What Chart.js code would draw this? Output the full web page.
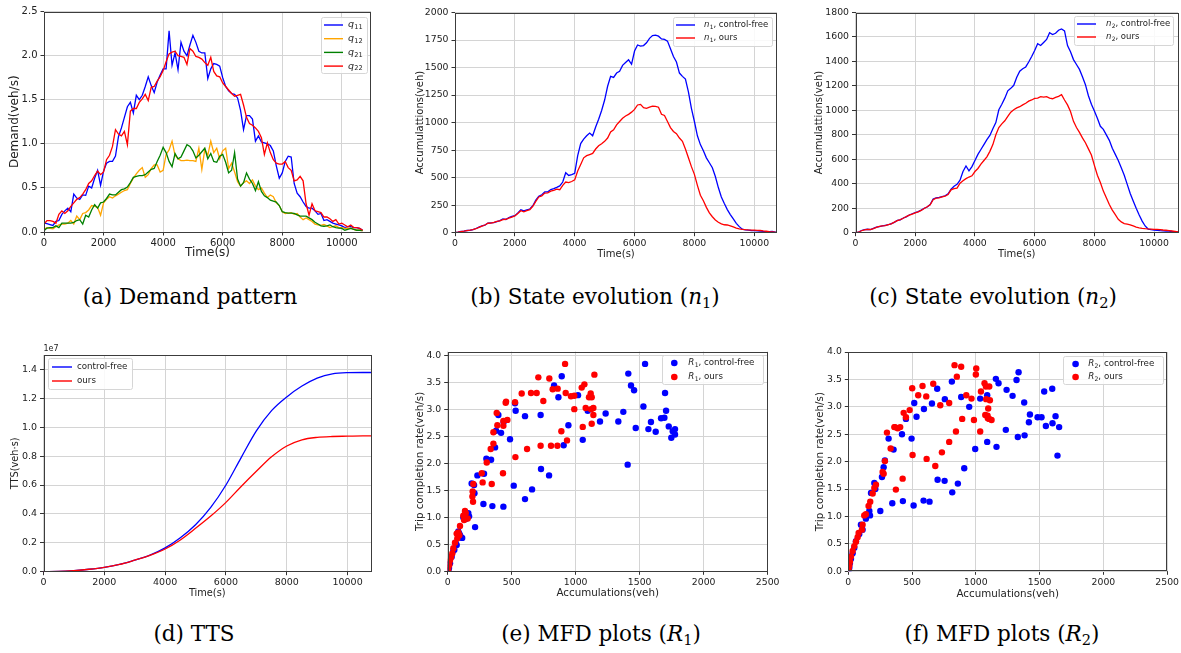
<!DOCTYPE html>
<html>
<head>
<meta charset="utf-8">
<script src="https://cdn.jsdelivr.net/npm/chart.js@4.4.1/dist/chart.umd.min.js"></script>
<style>
html, body { margin: 0; padding: 0; background: #fff; }
#fig { position: relative; width: 1181px; height: 653px; overflow: hidden; background: #fff; }
canvas { position: absolute; }
.cap { position: absolute; transform: translateX(-50%); white-space: nowrap; font-family: 'DejaVu Serif', serif; font-size: 21.5px; line-height: 26px; color: #000; }
.cap sub { font-size: 68%; vertical-align: -0.28em; line-height: 0; }
</style>
</head>
<body>
<div id="fig">
  <canvas id="cA"></canvas>
  <canvas id="cB"></canvas>
  <canvas id="cC"></canvas>
  <canvas id="cD"></canvas>
  <canvas id="cE"></canvas>
  <canvas id="cF"></canvas>
  <div class="cap" style="left:190px;top:284px">(a) Demand pattern</div>
  <div class="cap" style="left:595px;top:284px">(b) State evolution (<i>n</i><sub>1</sub>)</div>
  <div class="cap" style="left:993px;top:284px">(c) State evolution (<i>n</i><sub>2</sub>)</div>
  <div class="cap" style="left:194px;top:621px">(d) TTS</div>
  <div class="cap" style="left:601px;top:621px">(e) MFD plots (<i>R</i><sub>1</sub>)</div>
  <div class="cap" style="left:1002px;top:621px">(f) MFD plots (<i>R</i><sub>2</sub>)</div>
</div>
<script>
// ---- tick values ----
const timeTicks = [0, 2000, 4000, 6000, 8000, 10000];
const demandTicks = [0, 0.5, 1.0, 1.5, 2.0, 2.5];
const acc1Ticks = [0, 250, 500, 750, 1000, 1250, 1500, 1750, 2000];
const acc2Ticks = [0, 200, 400, 600, 800, 1000, 1200, 1400, 1600, 1800];
const ttsTicks = [0, 0.2, 0.4, 0.6, 0.8, 1.0, 1.2, 1.4];
const accXTicks = [0, 500, 1000, 1500, 2000, 2500];
const rateTicks = [0, 0.5, 1.0, 1.5, 2.0, 2.5, 3.0, 3.5, 4.0];

// ---- (a) demand pattern, every 100 s ----
const demandTime = [
  0,100,200,300,400,500,600,700,800,900,
  1000,1100,1200,1300,1400,1500,1600,1700,1800,1900,
  2000,2100,2200,2300,2400,2500,2600,2700,2800,2900,
  3000,3100,3200,3300,3400,3500,3600,3700,3800,3900,
  4000,4100,4200,4300,4400,4500,4600,4700,4800,4900,
  5000,5100,5200,5300,5400,5500,5600,5700,5800,5900,
  6000,6100,6200,6300,6400,6500,6600,6700,6800,6900,
  7000,7100,7200,7300,7400,7500,7600,7700,7800,7900,
  8000,8100,8200,8300,8400,8500,8600,8700,8800,8900,
  9000,9100,9200,9300,9400,9500,9600,9700,9800,9900,
  10000,10100,10200,10300,10400,10500,10600,10700
];
const q11 = [
  0.10,0.095,0.085,0.075,0.12,0.13,0.20,0.24,0.27,0.23,
  0.43,0.385,0.37,0.42,0.415,0.52,0.50,0.61,0.70,0.53,
  0.69,0.78,0.80,0.80,0.86,1.08,1.18,1.30,1.42,1.47,
  1.35,1.55,1.50,1.55,1.65,1.76,1.66,1.58,1.70,1.78,
  1.85,1.85,2.28,1.89,2.03,1.84,2.15,2.05,2.00,2.12,
  2.23,2.15,2.05,2.03,2.03,1.74,1.85,1.91,1.90,1.88,
  1.75,1.65,1.60,1.57,1.56,1.52,1.38,1.16,1.32,1.32,
  1.28,1.03,1.09,1.02,1.01,1.00,0.98,0.92,0.75,0.61,
  0.67,0.80,0.86,0.85,0.55,0.44,0.40,0.34,0.29,0.27,
  0.27,0.24,0.20,0.21,0.13,0.14,0.12,0.10,0.09,0.08,
  0.07,0.05,0.06,0.06,0.05,0.05,0.04,0.02
];
const q12 = [
  0.03,0.05,0.04,0.035,0.06,0.08,0.09,0.09,0.10,0.13,
  0.09,0.18,0.14,0.21,0.22,0.25,0.30,0.29,0.28,0.19,
  0.33,0.37,0.40,0.385,0.41,0.43,0.45,0.47,0.48,0.55,
  0.61,0.66,0.70,0.73,0.62,0.65,0.72,0.76,0.76,0.68,
  0.70,0.88,0.93,1.03,0.87,0.83,0.81,0.81,0.815,0.81,
  0.81,0.80,0.95,0.71,0.94,0.87,1.03,0.90,0.95,0.83,
  0.92,0.95,0.72,0.78,0.68,0.57,0.52,0.56,0.58,0.55,
  0.59,0.52,0.48,0.50,0.44,0.39,0.42,0.40,0.33,0.30,
  0.23,0.21,0.215,0.22,0.20,0.21,0.17,0.14,0.16,0.14,
  0.12,0.09,0.08,0.075,0.085,0.07,0.05,0.06,0.07,0.05,
  0.05,0.04,0.04,0.045,0.03,0.02,0.02,0.015
];
const q21 = [
  0.015,0.045,0.05,0.05,0.07,0.05,0.10,0.10,0.10,0.10,
  0.11,0.13,0.14,0.09,0.19,0.17,0.25,0.31,0.27,0.33,
  0.34,0.38,0.43,0.42,0.42,0.45,0.48,0.49,0.51,0.56,
  0.62,0.63,0.64,0.64,0.65,0.68,0.71,0.72,0.80,0.87,
  0.96,0.90,0.80,0.74,0.89,0.83,0.85,0.92,0.99,0.97,
  0.92,0.84,0.87,0.91,0.95,0.83,0.89,0.80,0.79,0.86,
  0.88,0.79,0.67,0.70,0.90,0.60,0.52,0.56,0.67,0.60,
  0.55,0.47,0.57,0.46,0.41,0.39,0.36,0.35,0.34,0.30,
  0.23,0.22,0.215,0.215,0.21,0.195,0.18,0.18,0.18,0.16,
  0.14,0.11,0.09,0.07,0.065,0.07,0.08,0.06,0.05,0.045,
  0.04,0.02,0.03,0.04,0.03,0.02,0.02,0.015
];
const q22 = [
  0.09,0.13,0.13,0.12,0.10,0.20,0.24,0.21,0.24,0.29,
  0.33,0.37,0.39,0.43,0.48,0.55,0.58,0.64,0.69,0.65,
  0.68,0.82,0.87,0.97,1.16,1.11,1.09,1.14,0.99,1.37,
  1.40,1.40,1.47,1.51,1.56,1.49,1.64,1.65,1.71,1.76,
  1.83,1.93,2.02,2.04,2.05,2.00,1.99,1.98,1.90,2.08,
  2.05,1.99,1.98,1.96,1.92,1.89,1.98,1.82,1.77,1.76,
  1.69,1.65,1.61,1.57,1.54,1.55,1.56,1.44,1.30,1.23,
  1.21,1.18,1.14,1.07,0.88,1.01,0.90,0.82,0.78,0.77,
  0.77,0.80,0.73,0.70,0.58,0.59,0.63,0.58,0.32,0.19,
  0.32,0.24,0.23,0.22,0.17,0.17,0.15,0.12,0.14,0.09,
  0.10,0.08,0.06,0.08,0.05,0.05,0.04,0.02
];

// ---- (b), (c) accumulations, every 100 s ----
const accTime = [
  0,100,200,300,400,500,600,700,800,900,
  1000,1100,1200,1300,1400,1500,1600,1700,1800,1900,
  2000,2100,2200,2300,2400,2500,2600,2700,2800,2900,
  3000,3100,3200,3300,3400,3500,3600,3700,3800,3900,
  4000,4100,4200,4300,4400,4500,4600,4700,4800,4900,
  5000,5100,5200,5300,5400,5500,5600,5700,5800,5900,
  6000,6100,6200,6300,6400,6500,6600,6700,6800,6900,
  7000,7100,7200,7300,7400,7500,7600,7700,7800,7900,
  8000,8100,8200,8300,8400,8500,8600,8700,8800,8900,
  9000,9100,9200,9300,9400,9500,9600,9700,9800,9900,
  10000,10100,10200,10300,10400,10500,10600,10700,10800
];
const n1Free = [
  0,5,12,15,20,22,27,38,50,62,
  68,88,90,92,100,110,125,120,138,148,
  155,180,208,198,208,215,245,295,330,345,
  370,372,392,400,412,425,460,545,520,528,
  540,700,810,850,880,905,880,960,1030,1110,
  1205,1330,1420,1410,1450,1465,1520,1545,1570,1530,
  1650,1705,1695,1700,1725,1765,1790,1795,1785,1760,
  1755,1740,1670,1600,1550,1450,1420,1395,1280,1130,
  1010,880,800,745,680,635,590,510,410,325,
  265,210,165,125,85,55,32,25,23,20,
  18,16,15,12,10,9,12,6,4
];
const n1Ours = [
  0,4,10,14,19,23,28,36,48,60,
  70,86,87,93,102,108,118,122,132,142,
  152,175,200,190,200,210,240,285,325,335,
  360,362,378,385,395,390,430,460,455,465,
  480,560,620,680,700,710,720,760,790,808,
  830,860,915,935,980,1010,1040,1060,1075,1095,
  1120,1160,1165,1135,1130,1140,1150,1148,1140,1075,
  1065,1010,955,920,900,860,830,760,680,600,
  530,430,340,290,230,180,145,115,95,80,
  72,70,62,52,42,35,30,27,25,24,
  24,22,20,16,13,10,8,5,3
];
const n2Free = [
  0,5,18,25,28,25,35,45,50,55,
  60,65,75,85,100,105,120,130,145,155,
  165,172,185,200,210,230,275,285,288,295,
  302,318,355,380,395,430,500,545,505,540,
  590,640,680,720,760,795,850,900,1005,1050,
  1100,1160,1180,1205,1270,1320,1340,1355,1395,1440,
  1490,1545,1530,1555,1580,1635,1620,1630,1655,1665,
  1650,1530,1480,1415,1375,1335,1275,1210,1120,1050,
  995,935,870,845,800,755,690,640,590,530,
  470,395,320,260,200,145,95,55,30,25,
  22,20,17,15,14,13,10,9,7
];
const n2Ours = [
  0,4,16,24,27,26,33,44,52,56,
  58,66,73,86,98,107,118,132,143,152,
  162,170,182,198,212,228,270,282,285,292,
  298,312,350,360,365,405,425,442,455,465,
  500,525,560,590,620,665,720,800,860,890,
  915,950,985,1005,1020,1030,1045,1058,1075,1085,
  1098,1100,1112,1108,1112,1100,1095,1106,1115,1128,
  1085,1045,990,910,860,820,775,735,685,635,
  550,470,410,340,285,230,185,148,110,88,
  75,70,64,55,46,40,36,33,31,30,
  28,27,25,22,20,17,14,10,6
];

// ---- (d) TTS, in units of 1e7 veh·s ----
const ttsTime = [0,500,1000,1500,2000,2500,3000,3500,4000,4500,5000,5500,6000,6500,7000,7500,8000,8500,9000,9500,10000,10500,10800];
const ttsFree = [0,0.002,0.008,0.017,0.03,0.05,0.08,0.115,0.165,0.235,0.325,0.445,0.60,0.79,0.975,1.115,1.21,1.285,1.34,1.37,1.378,1.379,1.379];
const ttsOurs = [0,0.002,0.008,0.017,0.03,0.05,0.08,0.113,0.157,0.22,0.30,0.385,0.48,0.59,0.695,0.795,0.87,0.913,0.93,0.936,0.938,0.94,0.94];

// ---- (e) MFD R1: accumulation (veh), trip completion rate (veh/s) ----
const r1FreeAcc = [1542,1411,1432,1456,1698,1529,1706,891,831,865,1018,1094,1234,1372,1333,1190,1469,1568,1588,1625,1667,1693,1727,1747,1758,1776,1776,1406,1055,943,906,526,531,604,726,487,437,417,396,378,370,339,302,284,232,206,214,279,349,435,516,604,659,729,792,161,167,141,122,104,91,83,70,62,52,44,31,18,10,5,209,187,113,98];
const r1FreeRate = [3.85,3.67,3.45,3.36,3.31,3.06,2.98,3.62,3.45,3.23,3.27,2.98,2.93,2.96,2.78,2.78,2.66,2.64,2.77,2.59,2.84,2.85,2.69,2.48,2.60,2.64,2.54,1.98,2.44,2.71,2.34,3.12,2.98,2.88,2.90,2.45,2.77,2.57,2.90,2.61,2.30,2.07,2.09,1.81,1.78,1.60,0.82,1.25,1.21,1.20,1.59,1.34,1.52,1.90,1.78,1.08,1.02,0.97,1.00,0.63,0.70,0.74,0.49,0.53,0.40,0.38,0.27,0.15,0.06,0.01,1.45,1.63,0.62,0.66];
const r1OursAcc = [917,708,794,1146,1068,1047,820,859,578,651,695,922,963,989,1117,1125,1104,1138,1120,1078,989,747,456,453,526,383,435,466,388,357,435,336,1138,1125,1055,888,932,857,807,726,620,529,357,305,266,200,432,344,273,195,193,198,135,141,122,156,128,96,83,70,91,75,57,44,36,26,18,13,5,3];
const r1OursRate = [3.85,3.60,3.58,3.65,3.47,3.41,3.38,3.39,3.30,3.31,3.31,3.31,3.25,3.26,3.30,3.23,3.23,3.03,3.01,3.03,3.01,3.16,3.15,3.13,3.14,2.94,2.79,2.81,2.71,2.58,2.70,2.27,2.90,2.74,2.68,2.60,2.43,2.33,2.33,2.33,2.27,2.12,2.37,2.02,1.82,1.62,1.82,1.62,1.65,1.48,1.39,1.29,1.12,1.08,1.03,0.98,0.95,0.84,0.72,0.70,0.67,0.61,0.53,0.43,0.33,0.26,0.20,0.12,0.07,0.02];

// ---- (f) MFD R2 ----
const r2FreeAcc = [1335,1319,1157,1178,812,697,757,1241,1288,1379,1536,1599,885,948,1034,1089,517,593,656,535,452,421,316,355,496,1424,1416,1484,1515,1549,1625,1601,1653,1640,1382,1329,1235,995,1089,1162,909,859,815,755,700,637,590,512,428,345,251,264,277,287,204,212,178,165,170,138,112,99,86,60,47,34,21,13,8,5];
const r2FreeRate = [3.63,3.49,3.51,3.43,3.46,3.33,3.14,3.31,3.20,3.08,3.28,3.33,3.18,3.00,3.15,3.21,3.07,2.96,3.06,2.82,2.78,2.50,2.42,2.22,2.42,2.86,2.72,2.81,2.81,2.65,2.83,2.70,2.63,2.11,2.48,2.45,2.58,2.23,2.36,2.27,1.88,1.60,1.44,1.65,1.67,1.27,1.29,1.20,1.28,1.24,1.10,1.72,1.90,2.02,1.61,1.50,1.43,1.10,1.02,0.96,0.76,0.85,0.68,0.55,0.43,0.33,0.23,0.15,0.07,0.03];
const r2OursAcc = [833,885,1003,1000,851,501,582,666,548,611,721,791,925,966,1068,1079,1105,1040,1081,1110,1097,1074,1092,1105,1123,1094,893,985,1034,844,791,734,682,614,504,481,452,434,407,387,366,361,303,332,426,373,269,277,287,217,204,191,172,159,138,125,112,107,81,73,60,47,34,21,13,8,3];
const r2OursRate = [3.76,3.73,3.70,3.59,3.55,3.34,3.38,3.42,3.21,3.19,3.03,3.07,3.21,3.15,3.43,3.37,3.37,3.28,3.14,3.12,2.97,2.85,2.84,2.78,2.76,2.79,2.78,2.76,2.55,2.55,2.36,2.17,1.92,2.05,2.12,2.94,2.81,2.89,2.63,2.61,2.63,2.63,2.53,2.24,1.69,1.49,1.81,1.78,2.01,1.58,1.52,1.42,1.27,1.19,1.04,1.02,0.85,0.76,0.70,0.62,0.54,0.46,0.37,0.27,0.18,0.11,0.05];

// ---------------------------------------------------------------
Chart.defaults.font.family = "'DejaVu Sans', sans-serif";
Chart.defaults.color = '#222';

const pts = (xs, ys) => xs.map((x, i) => ({ x: x, y: ys[i] }));

// matplotlib-like frame on all four sides
const framePlugin = {
  id: 'frame',
  afterDraw(chart) {
    const a = chart.chartArea, ctx = chart.ctx;
    ctx.save();
    ctx.strokeStyle = '#3c3c3c';
    ctx.lineWidth = 1;
    ctx.strokeRect(Math.round(a.left) + 0.5, Math.round(a.top) + 0.5,
      Math.round(a.right - a.left) - 1, Math.round(a.bottom - a.top) - 1);
    const o = chart.options.plugins.frame || {};
    if (o.offsetText) {
      ctx.fillStyle = '#222';
      ctx.font = "8px 'DejaVu Sans'";
      ctx.textBaseline = 'bottom';
      ctx.fillText(o.offsetText, a.left, a.top - 2);
    }
    ctx.restore();
  }
};

// label like "q_11" or "n_1, control-free": italic letter + subscript + rest
function drawLabel(ctx, label, x, y, fs) {
  ctx.textBaseline = 'middle';
  ctx.fillStyle = '#222';
  const m = label.match(/^([A-Za-z])_(\d+)(.*)$/);
  if (!m) {
    ctx.font = fs + "px 'DejaVu Sans'";
    ctx.fillText(label, x, y);
    return;
  }
  ctx.font = 'italic ' + fs + "px 'DejaVu Sans'";
  ctx.fillText(m[1], x, y);
  x += ctx.measureText(m[1]).width + 0.3;
  const sf = fs * 0.7;
  ctx.font = sf + "px 'DejaVu Sans'";
  ctx.fillText(m[2], x, y + fs * 0.28);
  x += ctx.measureText(m[2]).width;
  ctx.font = fs + "px 'DejaVu Sans'";
  ctx.fillText(m[3], x, y);
}

const boxLegend = {
  id: 'boxLegend',
  afterDraw(chart, args, o) {
    if (!o || !o.w) return;
    const ctx = chart.ctx, a = chart.chartArea;
    const x0 = o.side === 'left' ? a.left + o.dx : a.right - o.dx - o.w;
    const y0 = a.top + o.dy;
    ctx.save();
    ctx.beginPath();
    ctx.roundRect(Math.round(x0) + 0.5, Math.round(y0) + 0.5, o.w, o.h, 2);
    ctx.fillStyle = 'rgba(255,255,255,0.85)';
    ctx.fill();
    ctx.strokeStyle = '#d6d6d6';
    ctx.lineWidth = 1;
    ctx.stroke();
    chart.data.datasets.forEach((ds, i) => {
      const cy = y0 + o.first + i * o.row;
      if (o.mark === 'dot') {
        ctx.beginPath();
        ctx.arc(x0 + o.mx, cy, 3.3, 0, Math.PI * 2);
        ctx.fillStyle = ds.backgroundColor;
        ctx.fill();
      } else {
        ctx.beginPath();
        ctx.moveTo(x0 + o.l1, cy);
        ctx.lineTo(x0 + o.l2, cy);
        ctx.strokeStyle = ds.borderColor;
        ctx.lineWidth = 1.4;
        ctx.stroke();
      }
      drawLabel(ctx, ds.label, x0 + o.tx, cy, o.fs);
    });
    ctx.restore();
  }
};

function makeChart(id, L, type, datasets, legend, extra) {
  const c = document.getElementById(id);
  const b = L.box, ar = L.area;
  c.width = b.w; c.height = b.h;
  c.style.left = b.x + 'px'; c.style.top = b.y + 'px';
  c.style.width = b.w + 'px'; c.style.height = b.h + 'px';
  const pad = {
    left: ar.L - b.x - L.yw,
    top: ar.T - b.y,
    right: b.x + b.w - ar.R,
    bottom: b.y + b.h - ar.B - L.xh
  };
  const lh = L.titleFs * 1.2;
  const yTitlePad = L.yTitleX - b.x - pad.left - lh / 2;
  const xTitlePad = b.h - pad.bottom - lh / 2 - (L.xTitleY - b.y);
  const grid = { color: '#d4d4d4', lineWidth: 1, tickColor: '#333', tickLength: 3.5, drawTicks: true };
  return new Chart(c, {
    type: type,
    data: { datasets: datasets },
    options: {
      animation: false,
      responsive: false,
      devicePixelRatio: 1,
      layout: { padding: pad },
      scales: {
        x: {
          type: 'linear', min: 0, max: L.xmax,
          afterFit: s => { s.height = L.xh; },
          afterBuildTicks: s => { s.ticks = L.xticks.map(v => ({ value: v })); },
          border: { display: false },
          grid: grid,
          ticks: { autoSkip: false, maxRotation: 0,
                   padding: 2, font: { size: L.tickFs }, color: '#222', callback: v => String(v) },
          title: { display: true, text: L.xTitle, color: '#222', font: { size: L.titleFs },
                   padding: { top: 0, bottom: xTitlePad } }
        },
        y: {
          type: 'linear', min: 0, max: L.ymax,
          afterFit: s => { s.width = L.yw; },
          afterBuildTicks: s => { s.ticks = L.yticks.map(v => ({ value: v })); },
          border: { display: false },
          grid: grid,
          ticks: { autoSkip: false,
                   padding: 3, font: { size: L.tickFs }, color: '#222',
                   callback: v => L.ydec ? v.toFixed(L.ydec) : String(v) },
          title: { display: true, text: L.yTitle, color: '#222', font: { size: L.titleFs },
                   padding: { top: yTitlePad, bottom: 0 } }
        }
      },
      plugins: Object.assign({ legend: { display: false }, tooltip: { enabled: false }, boxLegend: legend }, extra || {})
    },
    plugins: [framePlugin, boxLegend]
  });
}

const line = (label, xs, ys, color, order) => ({
  label: label, data: pts(xs, ys), borderColor: color, backgroundColor: color,
  borderWidth: 1.3, pointRadius: 0, tension: 0, fill: false, order: order
});
const smooth = (label, xs, ys, color, order) => Object.assign(line(label, xs, ys, color, order),
  { cubicInterpolationMode: 'monotone' });
const dots = (label, xs, ys, color, order) => ({
  label: label, data: pts(xs, ys), backgroundColor: color, borderColor: color,
  borderWidth: 0, pointRadius: 3.2, order: order
});

// (a)
makeChart('cA', {
  box: { x: 0, y: 0, w: 385, h: 268 }, area: { L: 44, R: 371, T: 11.5, B: 232 }, yw: 44, xh: 30,
  xmax: 10980, xticks: timeTicks, ymax: 2.5, yticks: demandTicks, ydec: 1,
  tickFs: 10, titleFs: 12, yTitleX: 15, xTitleY: 253,
  xTitle: 'Time(s)', yTitle: 'Demand(veh/s)'
}, 'line', [
  line('q_11', demandTime, q11, '#0000ff', 4),
  line('q_12', demandTime, q12, '#ffa500', 3),
  line('q_21', demandTime, q21, '#008000', 2),
  line('q_22', demandTime, q22, '#ff0000', 1)
], { side: 'right', dx: 4, dy: 5.5, w: 46, h: 56, first: 8, row: 13.7, mark: 'line', l1: 3, l2: 22, tx: 27, fs: 9.5 });

// (b)
makeChart('cB', {
  box: { x: 400, y: 0, w: 390, h: 268 }, area: { L: 455, R: 777, T: 12.5, B: 232.7 }, yw: 55, xh: 30,
  xmax: 10760, xticks: timeTicks, ymax: 2000, yticks: acc1Ticks, ydec: 0,
  tickFs: 9.3, titleFs: 10, yTitleX: 420, xTitleY: 254,
  xTitle: 'Time(s)', yTitle: 'Accumulattions(veh)'
}, 'line', [
  line('n_1, control-free', accTime, n1Free, '#0000ff', 2),
  line('n_1, ours', accTime, n1Ours, '#ff0000', 1)
], { side: 'right', dx: 5, dy: 4.5, w: 99, h: 29, first: 8, row: 13, mark: 'line', l1: 3, l2: 22, tx: 31, fs: 8.5 });

// (c)
makeChart('cC', {
  box: { x: 800, y: 0, w: 381, h: 268 }, area: { L: 855.5, R: 1178, T: 12.5, B: 232.7 }, yw: 55.5, xh: 30,
  xmax: 10800, xticks: timeTicks, ymax: 1800, yticks: acc2Ticks, ydec: 0,
  tickFs: 9.3, titleFs: 10, yTitleX: 819, xTitleY: 254,
  xTitle: 'Time(s)', yTitle: 'Accumulattions(veh)'
}, 'line', [
  line('n_2, control-free', accTime, n2Free, '#0000ff', 2),
  line('n_2, ours', accTime, n2Ours, '#ff0000', 1)
], { side: 'right', dx: 5, dy: 3, w: 99, h: 29, first: 8.5, row: 13, mark: 'line', l1: 3, l2: 22, tx: 32, fs: 8.5 });

// (d)
makeChart('cD', {
  box: { x: 0, y: 335, w: 385, h: 270 }, area: { L: 43.5, R: 371, T: 355, B: 571.7 }, yw: 43.5, xh: 30,
  xmax: 10770, xticks: timeTicks, ymax: 1.5, yticks: ttsTicks, ydec: 1,
  tickFs: 9.5, titleFs: 9.8, yTitleX: 15, xTitleY: 593,
  xTitle: 'Time(s)', yTitle: 'TTS(veh·s)'
}, 'line', [
  smooth('control-free', ttsTime, ttsFree, '#0000ff', 2),
  smooth('ours', ttsTime, ttsOurs, '#ff0000', 1)
], { side: 'left', dx: 4.5, dy: 3, w: 84, h: 31, first: 9, row: 14, mark: 'line', l1: 4, l2: 24, tx: 29, fs: 8.7 },
{ frame: { offsetText: '1e7' } });

// (e)
makeChart('cE', {
  box: { x: 400, y: 335, w: 395, h: 270 }, area: { L: 447.7, R: 767.7, T: 351.5, B: 571.3 }, yw: 47.7, xh: 30,
  xmax: 2500, xticks: accXTicks, ymax: 4.08, yticks: rateTicks, ydec: 1,
  tickFs: 9.3, titleFs: 10.3, yTitleX: 420, xTitleY: 593,
  xTitle: 'Accumulations(veh)', yTitle: 'Trip completion rate(veh/s)'
}, 'scatter', [
  dots('R_1, control-free', r1FreeAcc, r1FreeRate, '#0000ff', 2),
  dots('R_1, ours', r1OursAcc, r1OursRate, '#ff0000', 1)
], { side: 'right', dx: 4.7, dy: 3.5, w: 101, h: 29, first: 8, row: 14, mark: 'dot', mx: 12.3, tx: 26.3, fs: 8.7 });

// (f)
makeChart('cF', {
  box: { x: 800, y: 335, w: 381, h: 270 }, area: { L: 848.3, R: 1167.3, T: 352, B: 571.3 }, yw: 48.3, xh: 30,
  xmax: 2500, xticks: accXTicks, ymax: 4.0, yticks: rateTicks, ydec: 1,
  tickFs: 9.3, titleFs: 10.3, yTitleX: 820, xTitleY: 594,
  xTitle: 'Accumulations(veh)', yTitle: 'Trip completion rate(veh/s)'
}, 'scatter', [
  dots('R_2, control-free', r2FreeAcc, r2FreeRate, '#0000ff', 2),
  dots('R_2, ours', r2OursAcc, r2OursRate, '#ff0000', 1)
], { side: 'right', dx: 4.3, dy: 4, w: 100, h: 28, first: 8, row: 13, mark: 'dot', mx: 12.7, tx: 25.3, fs: 8.7 });
</script>
</body>
</html>
